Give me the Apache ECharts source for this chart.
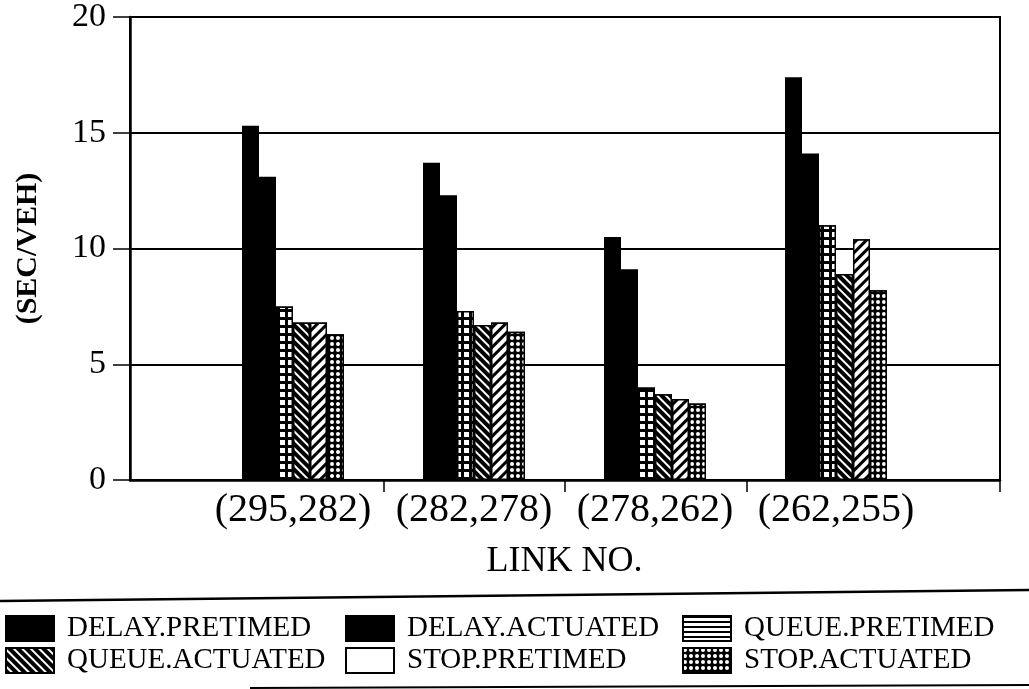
<!DOCTYPE html>
<html><head><meta charset="utf-8">
<script src="https://cdn.jsdelivr.net/npm/echarts@6/dist/echarts.min.js"></script>
<style>html,body{margin:0;padding:0;background:#fff}#c{width:1029px;height:689px}</style>
</head><body><div id="c"></div>
<script>
// ---- data ----
const categories = ['(295,282)', '(282,278)', '(278,262)', '(262,255)'];
const seriesNames = ['DELAY.PRETIMED', 'DELAY.ACTUATED', 'QUEUE.PRETIMED', 'QUEUE.ACTUATED', 'STOP.PRETIMED', 'STOP.ACTUATED'];
const delayPretimed = [15.3, 13.7, 10.5, 17.4];
const delayActuated = [13.1, 12.3, 9.1, 14.1];
const queuePretimed = [7.5, 7.3, 4.0, 11.0];
const queueActuated = [6.8, 6.7, 3.7, 8.9];
const stopPretimed = [6.8, 6.8, 3.5, 10.4];
const stopActuated = [6.3, 6.4, 3.3, 8.2];
const yMin = 0, yMax = 20, yStep = 5;
const yAxisTitle = '(SEC/VEH)';
const xAxisTitle = 'LINK NO.';

const seriesValues = [delayPretimed, delayActuated, queuePretimed, queueActuated, stopPretimed, stopActuated];

const serif = '"Liberation Serif", "DejaVu Serif", serif';
const decals = [
  null,
  null,
  { symbol: 'rect', symbolSize: 1, color: '#fff', dashArrayX: [5, 3], dashArrayY: [5, 3] },
  { symbol: 'rect', symbolSize: 1, color: '#fff', dashArrayX: [1, 0], dashArrayY: [2, 4], rotation: Math.PI / 4 },
  { symbol: 'rect', symbolSize: 1, color: '#fff', dashArrayX: [1, 0], dashArrayY: [4, 3], rotation: -Math.PI / 4 },
  { symbol: 'circle', symbolSize: 1, color: '#fff', dashArrayX: [4, 2], dashArrayY: [4, 2] }
];

const series = seriesNames.map((name, i) => {
  const style = { color: '#000', borderColor: '#000', borderWidth: 1.5 };
  if (decals[i]) style.decal = decals[i];
  return {
    name, type: 'bar', xAxisIndex: 1, yAxisIndex: 1,
    data: seriesValues[i],
    barWidth: 17, barGap: '0%',
    itemStyle: style,
    emphasis: { disabled: true },
    animation: false
  };
});

const legendItem = (name, i) => {
  const it = { name, icon: 'rect' };
  if (i === 2) it.itemStyle = { color: '#fff', borderColor: '#000', borderWidth: 2, decal: { symbol: 'rect', symbolSize: 1, color: '#000', dashArrayX: [1, 0], dashArrayY: [2, 3] } };
  if (i === 4) it.itemStyle = { color: '#fff', borderColor: '#000', borderWidth: 2, decal: 'none' };
  return it;
};

const legendBase = {
  orient: 'vertical', top: 614, itemGap: 3, itemWidth: 48, itemHeight: 25, padding: 0,
  textStyle: { fontFamily: serif, fontSize: 29, color: '#000', padding: [0, 0, 0, 8] },
  selectedMode: false
};

const option = {
  backgroundColor: '#fff',
  animation: false,
  grid: [
    { left: 130, right: 29, top: 17, bottom: 209, show: true, borderColor: '#000', borderWidth: 2, backgroundColor: 'transparent' },
    { left: 202.5, right: 102.5, top: 17, bottom: 209 }
  ],
  xAxis: [
    { type: 'value', gridIndex: 0, min: -0.9, max: 3.9,
      axisLine: { show: true, onZero: false, lineStyle: { color: '#000', width: 2.5 } },
      axisTick: { show: true, length: 12, customValues: [0.5, 1.5, 2.5, 3.9], lineStyle: { color: '#000', width: 1.5 } },
      axisLabel: { show: false }, splitLine: { show: false } },
    { type: 'category', gridIndex: 1, data: categories,
      axisLine: { show: false }, axisTick: { show: false },
      axisLabel: { interval: 0, fontFamily: serif, fontSize: 40, color: '#000', margin: 10 },
      name: xAxisTitle, nameLocation: 'middle', nameGap: 64,
      nameTextStyle: { fontFamily: serif, fontSize: 36, color: '#000' } }
  ],
  yAxis: [
    { type: 'value', gridIndex: 0, min: yMin, max: yMax, interval: yStep,
      axisLine: { show: true, onZero: false, lineStyle: { color: '#000', width: 2.5 } },
      axisTick: { show: true, length: 17, lineStyle: { color: '#000', width: 1.5 } },
      axisLabel: { fontFamily: serif, fontSize: 34, color: '#000', margin: 24 },
      splitLine: { show: true, lineStyle: { color: '#000', width: 2 } },
      name: yAxisTitle, nameLocation: 'middle', nameGap: 87, nameRotate: 90,
      nameTextStyle: { fontFamily: serif, fontSize: 30, fontWeight: 'bold', color: '#000' } },
    { type: 'value', gridIndex: 1, min: yMin, max: yMax, interval: yStep, show: false }
  ],
  legend: [
    Object.assign({}, legendBase, { left: 5, data: [legendItem(seriesNames[0], 0), legendItem(seriesNames[3], 3)] }),
    Object.assign({}, legendBase, { left: 345, data: [legendItem(seriesNames[1], 1), legendItem(seriesNames[4], 4)] }),
    Object.assign({}, legendBase, { left: 682, data: [legendItem(seriesNames[2], 2), legendItem(seriesNames[5], 5)] })
  ],
  graphic: [
    { type: 'line', shape: { x1: 0, y1: 601, x2: 1029, y2: 590 }, style: { stroke: '#000', lineWidth: 2.5 } },
    { type: 'line', shape: { x1: 250, y1: 688, x2: 1029, y2: 685 }, style: { stroke: '#000', lineWidth: 2 } }
  ],
  series
};

const chart = echarts.init(document.getElementById('c'), null, { renderer: 'canvas' });
chart.setOption(option);
</script>
</body></html>
